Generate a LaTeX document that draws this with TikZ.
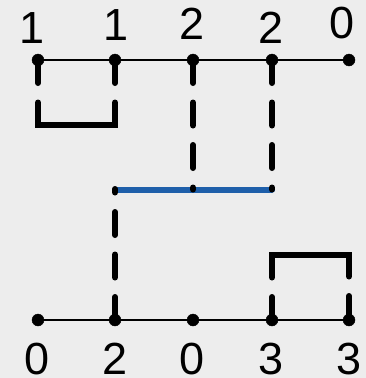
\documentclass[tikz,border=0pt]{standalone}
\usepackage{fontspec}
\setmainfont{Liberation Sans}
\usepackage{tkz-euclide}
\definecolor{BackClr}{HTML}{EDEDED}
\definecolor{LineClr}{HTML}{1E5FAA}

\begin{document}
\begin{tikzpicture}[x=1pt,y=-1pt,
  lbl/.style={anchor=base,inner sep=0pt,font=\fontsize{45}{50}\selectfont},
  dsh/.style={line width=6pt,dash pattern=on 23pt off 19.5pt},
  brk/.style={line width=6pt,dash pattern=on 23pt off 19.5pt on 121pt off 19.5pt}]
\fill[BackClr] (0,0) rectangle (366,378);
\useasboundingbox (0,0) rectangle (366,378);
\tkzSetUpLine[line width=2.8pt,color=black]
\tkzSetUpPoint[fill=black]

\tkzDefPoints{38/60/A,115/60/B,193/60/C,272/60/D,349/60/E}
\tkzDefPoints{38/320/F,115/320/G,193/320/H,272/320/K,349/320/L}
\tkzDefPoints{38/124.5/P1,115/124.5/P2,272/255/Q1,349/255/Q2}
\tkzDefPoints{115.5/189.5/M1,193/189.5/M2,272/189.5/M3,115/189/N}

\tkzDrawSegment[color=LineClr,line width=6pt](M1,M3)

\tkzDrawSegments[dsh](C,M2 D,M3 G,N)
\tkzDrawPolySeg[brk](A,P1,P2,B)
\tkzDrawPolySeg[brk](K,Q1,Q2,L)

\tkzDrawSegments(A,E F,L)
\tkzDrawPoints[size=12](A,B,C,D,E,F,G,H,K,L)

\node[lbl] (tA) at (32,43) {1};
\node[lbl] (tB) at (116,40) {1};
\node[lbl] (tC) at (192.5,39) {2};
\node[lbl] (tD) at (271,43) {2};
\node[lbl] (tE) at (342.5,38) {0};
\node[lbl] (bF) at (37,374) {0};
\node[lbl] (bG) at (115.5,374) {2};
\node[lbl] (bH) at (192.5,374) {0};
\node[lbl] (bK) at (271,374) {3};
\node[lbl] (bL) at (349,374) {3};

\end{tikzpicture}
\end{document}
